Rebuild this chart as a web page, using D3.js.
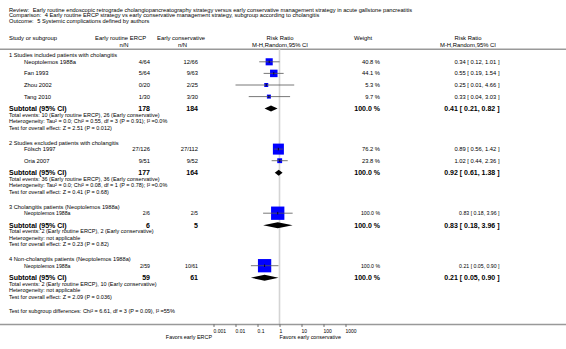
<!DOCTYPE html>
<html>
<head>
<meta charset="utf-8">
<script src="https://cdn.jsdelivr.net/npm/d3@7/dist/d3.min.js"></script>
<style>
body { margin: 0; background: #fff; }
text { font-family: "Liberation Sans", Arial, sans-serif; fill: #000; }
</style>
</head>
<body>
<div id="forest"></div>
<script>
// header texts
var titleLines = [
    ["Review:", "Early routine endoscopic retrograde cholangiopancreatography strategy versus early conservative management strategy in acute gallstone pancreatitis"],
    ["Comparison:", "4 Early routine ERCP strategy vs early conservative management strategy, subgroup according to cholangitis"],
    ["Outcome:", "5 Systemic complications defined by authors"]
];

// subgroups
var groups = [
    "1 Studies included patients with cholangitis",
    "2 Studies excluded patients with cholangitis",
    "3 Cholangitis patients (Neoptolemos 1988a)",
    "4 Non-cholangitis patients (Neoptolemos 1988a)"
];

// studies
var studies = ["Neoptolemos 1988a", "Fan 1993", "Zhou 2002", "Tang 2010", "Fölsch 1997", "Oria 2007", "Neoptolemos 1988a", "Neoptolemos 1988a"];
var studyGroup = [0, 0, 0, 0, 1, 1, 2, 3];
var ercpEvents = ["4/64", "5/64", "0/20", "1/30", "27/126", "9/51", "2/6", "2/59"];
var consEvents = ["12/66", "9/63", "2/25", "3/30", "27/112", "9/52", "2/5", "10/61"];
var weights = [40.8, 44.1, 5.3, 9.7, 76.2, 23.8, 100.0, 100.0];
var rr = [0.34, 0.55, 0.25, 0.33, 0.89, 1.02, 0.83, 0.21];
var rrLow = [0.12, 0.19, 0.01, 0.04, 0.56, 0.44, 0.18, 0.05];
var rrHigh = [1.01, 1.54, 4.66, 3.03, 1.42, 2.36, 3.96, 0.90];

// subtotals
var subErcpN = [178, 177, 6, 59];
var subConsN = [184, 164, 5, 61];
var subRR = [0.41, 0.92, 0.83, 0.21];
var subLow = [0.21, 0.61, 0.18, 0.05];
var subHigh = [0.82, 1.38, 3.96, 0.90];
var totalEvents = [
    "Total events: 10 (Early routine ERCP), 26 (Early conservative)",
    "Total events: 36 (Early routine ERCP), 36 (Early conservative)",
    "Total events: 2 (Early routine ERCP), 2 (Early conservative)",
    "Total events: 2 (Early routine ERCP), 10 (Early conservative)"
];
var heterogeneity = [
    "Heterogeneity: Tau\u00b2 = 0.0; Chi\u00b2 = 0.55, df = 3 (P = 0.91); I\u00b2 =0.0%",
    "Heterogeneity: Tau\u00b2 = 0.0; Chi\u00b2 = 0.08, df = 1 (P = 0.78); I\u00b2 =0.0%",
    "Heterogeneity: not applicable",
    "Heterogeneity: not applicable"
];
var overallEffect = [
    "Test for overall effect: Z = 2.51 (P = 0.012)",
    "Test for overall effect: Z = 0.41 (P = 0.68)",
    "Test for overall effect: Z = 0.23 (P = 0.82)",
    "Test for overall effect: Z = 2.09 (P = 0.036)"
];
var subgroupTest = "Test for subgroup differences: Chi\u00b2 = 6.61, df = 3 (P = 0.09), I\u00b2 =55%";

var tickValues = [0.001, 0.01, 0.1, 1, 10, 100, 1000];
var tickLabels = ["0.001", "0.01", "0.1", "1", "10", "100", "1000"];
var favorsLeft = "Favors early ERCP";
var favorsRight = "Favors early conservative";

var width = 566, height = 349;

var svg = d3.select("#forest")
    .append("svg")
    .attr("width", width)
    .attr("height", height);

var x = d3.scaleLog().domain([0.001, 1000]).range([213.5, 345.5]);
var boxSize = d3.scalePow().exponent(0.7).domain([0, 100]).range([0, 13.3]);

// columns
var col = {
    name: 9, study: 24, ercp: 150, cons: 198, weight: 380, ci: 499.5
};

function txt(xp, yp, s, size, anchor, bold) {
    return svg.append("text")
        .attr("x", xp)
        .attr("y", yp)
        .attr("dy", "0.35em")
        .attr("font-size", size)
        .attr("text-anchor", anchor || "start")
        .attr("font-weight", bold ? "bold" : "normal")
        .text(s);
}

// title block
titleLines.forEach(function (t, i) {
    var yy = 10 + i * 5.5;
    var lab = txt(col.name, yy, t[0], 5.7);
    var w = lab.node().getComputedTextLength();
    txt(col.name + w + 3.5, yy, t[1], 5.7);
});

// column headers
var h1 = 38.3, h2 = 45.1, hs = 5.9;
txt(col.name, h1, "Study or subgroup", hs);
txt(95, h1, "Early routine ERCP", hs);
txt(124, h2, "n/N", hs, "middle");
txt(157, h1, "Early conservative", hs);
txt(182.5, h2, "n/N", hs, "middle");
txt(280, h1, "Risk Ratio", hs, "middle");
txt(280, h2, "M-H,Random,95% CI", hs, "middle");
txt(354, h1, "Weight", hs);
txt(468, h1, "Risk Ratio", hs, "middle");
txt(468, h2, "M-H,Random,95% CI", hs, "middle");

svg.append("line")
    .attr("x1", 0).attr("x2", width)
    .attr("y1", 49.3).attr("y2", 49.3)
    .attr("stroke", "#999").attr("stroke-width", 1.5);

var axisY = 324.5;

// reference line at 1
svg.append("line")
    .attr("x1", x(1)).attr("x2", x(1))
    .attr("y1", 49.3).attr("y2", axisY)
    .attr("stroke", "#d4d4d4").attr("stroke-width", 1.6);

// row layout
var rows = [];
var yy = 55.3;
groups.forEach(function (g, gi) {
    rows.push({ type: "group", g: gi, y: yy });
    yy += 6.5;
    var members = d3.range(studies.length).filter(function (i) { return studyGroup[i] === gi; });
    members.forEach(function (si, k) {
        if (k > 0) yy += 11.6;
        rows.push({ type: "study", i: si, y: yy });
    });
    yy += 12;
    rows.push({ type: "subtotal", g: gi, y: yy });
    yy += 6.3;
    rows.push({ type: "note", s: totalEvents[gi], y: yy });
    yy += 6.5;
    rows.push({ type: "note", s: heterogeneity[gi], y: yy });
    yy += 6.5;
    rows.push({ type: "note", s: overallEffect[gi], y: yy });
    yy += 14.7;
});
rows.push({ type: "note", s: subgroupTest, y: yy - 0.7 });

function ciText(a, b, c) {
    return a.toFixed(2) + " [ " + b.toFixed(2) + ", " + c.toFixed(2) + " ]";
}

rows.forEach(function (r) {
    if (r.type === "group") {
        txt(col.name, r.y, groups[r.g], 5.7);
    } else if (r.type === "note") {
        txt(col.name, r.y, r.s, 5.5);
    } else if (r.type === "study") {
        var i = r.i;
        var single = studyGroup.filter(function (g) { return g === studyGroup[i]; }).length === 1;
        var fs = single ? 5.2 : 5.8;
        txt(col.study, r.y, studies[i], fs);
        txt(col.ercp, r.y, ercpEvents[i], fs, "end");
        txt(col.cons, r.y, consEvents[i], fs, "end");
        txt(col.weight, r.y, weights[i].toFixed(1) + " %", fs, "end");
        txt(col.ci, r.y, ciText(rr[i], rrLow[i], rrHigh[i]), fs, "end");

        var s = Math.max(4, boxSize(weights[i]));
        svg.append("rect")
            .attr("x", x(rr[i]) - s / 2)
            .attr("y", r.y - s / 2)
            .attr("width", s)
            .attr("height", s)
            .attr("fill", "#0000ff");
        svg.append("line")
            .attr("x1", x(rrLow[i])).attr("x2", x(rrHigh[i]))
            .attr("y1", r.y).attr("y2", r.y)
            .attr("stroke", "#555").attr("stroke-width", 0.8);
        svg.append("line")
            .attr("x1", x(rr[i])).attr("x2", x(rr[i]))
            .attr("y1", r.y - 1.3).attr("y2", r.y + 1.3)
            .attr("stroke", "#000").attr("stroke-width", 0.8);
    } else if (r.type === "subtotal") {
        var g = r.g;
        txt(col.name, r.y, "Subtotal (95% CI)", 7, "start", true);
        txt(col.ercp, r.y, subErcpN[g], 7, "end", true);
        txt(col.cons, r.y, subConsN[g], 7, "end", true);
        txt(col.weight, r.y, "100.0 %", 7, "end", true);
        txt(col.ci, r.y, ciText(subRR[g], subLow[g], subHigh[g]), 7, "end", true);
        var h = 3;
        svg.append("path")
            .attr("d", "M" + x(subLow[g]) + "," + r.y +
                "L" + x(subRR[g]) + "," + (r.y - h) +
                "L" + x(subHigh[g]) + "," + r.y +
                "L" + x(subRR[g]) + "," + (r.y + h) + "Z")
            .attr("fill", "#000");
    }
});

// axis
svg.append("line")
    .attr("x1", 0).attr("x2", width)
    .attr("y1", axisY).attr("y2", axisY)
    .attr("stroke", "#999").attr("stroke-width", 1.5);

var axis = svg.append("g")
    .attr("transform", "translate(0," + axisY + ")")
    .call(d3.axisBottom(x)
        .tickValues(tickValues)
        .tickFormat(function (d, i) { return tickLabels[i]; })
        .tickSize(2.5));
axis.select(".domain").remove();
axis.selectAll(".tick line").attr("stroke", "#333").attr("stroke-width", 0.7);
axis.selectAll(".tick text")
    .attr("y", 4.5)
    .attr("x", -0.5)
    .attr("text-anchor", "start")
    .attr("font-size", 5)
    .attr("font-family", "Liberation Sans, Arial, sans-serif");

txt(x(0.001) - 1.5, 337.5, favorsLeft, 5.4, "end");
txt(x(1), 337.5, favorsRight, 5.4, "start");
</script>
</body>
</html>
